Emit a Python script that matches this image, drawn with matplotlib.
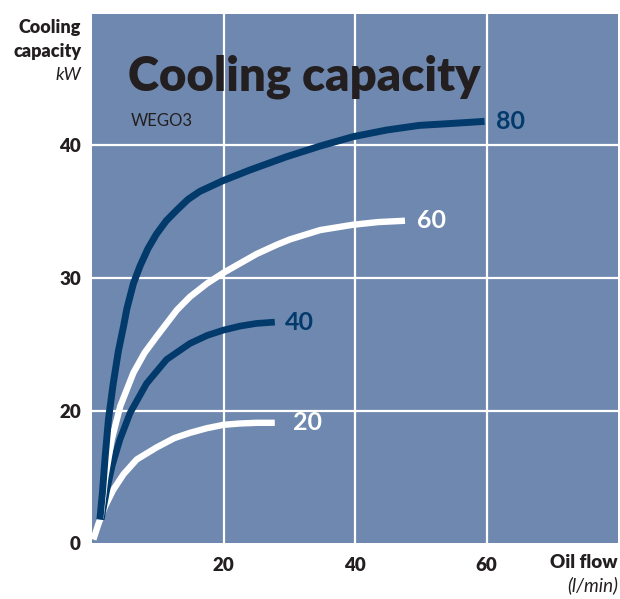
import matplotlib.pyplot as plt

# values (oil flow l/min, cooling capacity kW)
# the y axis is broken: the bottom edge is labelled "0" but sits near 10.1
curve_80_x = [1.2, 1.6, 2.0, 2.5, 3.2, 4.0, 4.8, 5.3, 6.3, 7.3, 8.5, 9.8, 11.3, 12.9, 14.6,
              16.4, 19.9, 24.0, 29.6, 34.7, 39.7, 44.8, 49.8, 54.9, 59.7]
curve_80_y = [11.9, 14.0, 16.6, 19.4, 22.0, 24.5, 26.4, 27.7, 29.6, 30.9, 32.2, 33.3, 34.3, 35.1, 35.9,
              36.5, 37.3, 38.1, 39.1, 39.9, 40.6, 41.1, 41.45, 41.6, 41.75]

curve_60_x = [1.3, 2.0, 3.0, 4.3, 6.3, 8.0, 9.8, 12.9, 14.9, 17.5, 20.0, 22.5, 25.0, 28.1,
              30.1, 34.7, 39.7, 43.5, 47.6]
curve_60_y = [12.0, 15.0, 17.9, 20.4, 22.9, 24.4, 25.6, 27.6, 28.6, 29.6, 30.4, 31.1, 31.8, 32.5,
              32.9, 33.6, 34.0, 34.2, 34.3]

curve_40_x = [1.4, 2.2, 3.1, 4.25, 5.8, 8.3, 11.35, 14.9, 17.5, 20.0, 22.5, 25.0, 27.8]
curve_40_y = [11.9, 14.0, 16.0, 17.9, 19.9, 22.1, 23.9, 25.1, 25.7, 26.1, 26.4, 26.6, 26.7]

curve_20_x = [0.2, 1.0, 2.0, 3.2, 4.8, 6.8, 9.8, 12.5, 14.9, 17.5, 20.0, 22.5, 25.0, 27.8]
curve_20_y = [10.4, 11.6, 12.9, 14.1, 15.3, 16.4, 17.3, 18.0, 18.4, 18.75, 19.0, 19.1, 19.15, 19.15]

x_ticks = [20, 40, 60]
y_ticks = [10.14, 20, 30, 40]
y_tick_labels = ["0", "20", "30", "40"]

bg = "#6f88af"
navy = "#033a6c"
ink = "#231f20"

plt.rcParams["font.family"] = ["Lato", "DejaVu Sans"]

fig = plt.figure(figsize=(6.2, 5.99), dpi=100)
ax = fig.add_axes([92 / 620, 56 / 599, 526 / 620, 529 / 599])
ax.set_facecolor(bg)
ax.set_xlim(0, 80)
ax.set_ylim(10.14, 49.8)

for x in x_ticks:
    ax.axvline(x, color="white", lw=1.6, zorder=1)
for y in y_ticks[1:]:
    ax.axhline(y, color="white", lw=1.6, zorder=1)

ax.plot(curve_20_x, curve_20_y, color="white", lw=4.6, solid_capstyle="butt", solid_joinstyle="round", zorder=3)
ax.plot(curve_40_x, curve_40_y, color=navy, lw=4.8, solid_capstyle="butt", solid_joinstyle="round", zorder=4)
ax.plot(curve_60_x, curve_60_y, color="white", lw=4.6, solid_capstyle="butt", solid_joinstyle="round", zorder=5)
ax.plot(curve_80_x, curve_80_y, color=navy, lw=5.0, solid_capstyle="butt", solid_joinstyle="round", zorder=6)

ax.text(61.5, curve_80_y[-1], "80", color=navy, fontsize=18, fontweight="bold", va="center")
ax.text(49.4, curve_60_y[-1], "60", color="white", fontsize=18, fontweight="bold", va="center")
ax.text(29.3, curve_40_y[-1], "40", color=navy, fontsize=18, fontweight="bold", va="center")
ax.text(30.5, curve_20_y[-1], "20", color="white", fontsize=18, fontweight="bold", va="center")

ax.set_xticks(x_ticks)
ax.set_xticklabels([str(v) for v in x_ticks])
ax.set_yticks(y_ticks)
ax.set_yticklabels(y_tick_labels)
ax.tick_params(length=0, labelsize=13.5, labelcolor=ink)
ax.tick_params(axis="y", pad=8)
ax.tick_params(axis="x", pad=10)
for lab in ax.get_xticklabels() + ax.get_yticklabels():
    lab.set_fontweight("heavy")
for s in ax.spines.values():
    s.set_visible(False)

# titles and axis captions
fig.text(128 / 620, 1 - 90 / 599, "Cooling capacity", fontsize=34, fontweight="heavy", color=ink, va="baseline")
fig.text(131 / 620, 1 - 121 / 599, "WEGO3", fontsize=12, color=ink, va="center")

fig.text(81 / 620, 1 - 27 / 599, "Cooling", fontsize=13, fontweight="heavy", color=ink, ha="right", va="center")
fig.text(81 / 620, 1 - 51 / 599, "capacity", fontsize=13, fontweight="heavy", color=ink, ha="right", va="center")
fig.text(81 / 620, 1 - 75 / 599, "kW", fontsize=13, style="italic", color=ink, ha="right", va="center")

fig.text(618 / 620, 1 - 562 / 599, "Oil flow", fontsize=13.5, fontweight="heavy", color=ink, ha="right", va="center")
fig.text(618 / 620, 1 - 585 / 599, "(l/min)", fontsize=13.5, style="italic", color=ink, ha="right", va="center")

fig.savefig("out.png", dpi=100, facecolor="white")
